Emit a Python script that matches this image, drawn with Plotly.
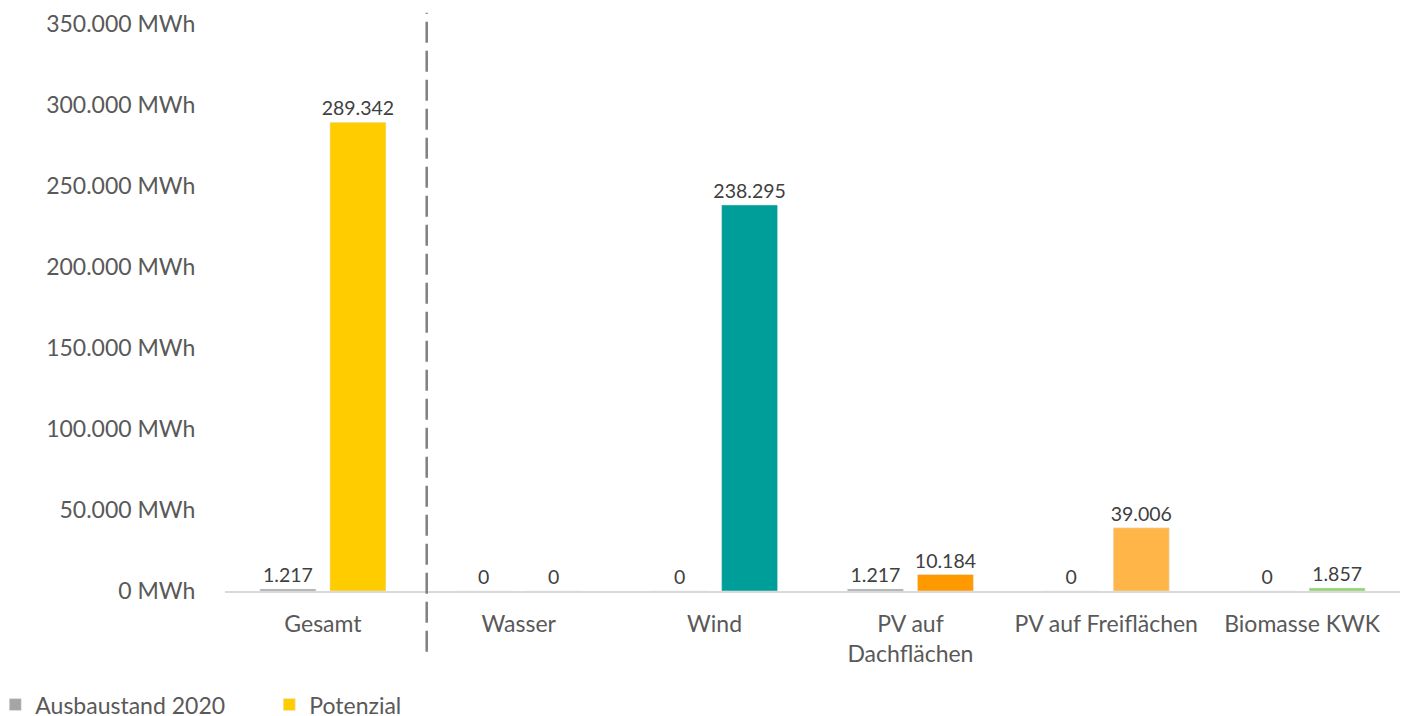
import plotly.graph_objects as go

categories = ["Gesamt", "Wasser", "Wind", "PV auf<br>Dachflächen", "PV auf Freiflächen", "Biomasse KWK"]
ausbau_2020 = [1217, 0, 0, 1217, 0, 0]
potenzial = [289342, 0, 238295, 10184, 39006, 1857]
ausbau_labels = ["1.217", "0", "0", "1.217", "0", "0"]
potenzial_labels = ["289.342", "0", "238.295", "10.184", "39.006", "1.857"]
potenzial_colors = ["#FFCC00", "#FFCC00", "#009E99", "#FF9900", "#FFB547", "#92D36E"]
tick_vals = [0, 50000, 100000, 150000, 200000, 250000, 300000, 350000]
tick_text = ["0 MWh", "50.000 MWh", "100.000 MWh", "150.000 MWh", "200.000 MWh",
             "250.000 MWh", "300.000 MWh", "350.000 MWh"]

FONT = "Lato"
fig = go.Figure()
fig.add_trace(go.Bar(
    x=categories, y=ausbau_2020, name="Ausbaustand 2020",
    marker_color="#A5A5A5", text=ausbau_labels, textposition="outside",
    constraintext="none",
    textfont=dict(size=19.5, color="#404040", family=FONT), cliponaxis=False,
))
fig.add_trace(go.Bar(
    x=categories, y=potenzial, name="Potenzial",
    marker_color=potenzial_colors, text=potenzial_labels, textposition="outside",
    constraintext="none",
    textfont=dict(size=19.5, color="#404040", family=FONT), cliponaxis=False,
))

fig.add_shape(type="line", xref="x", yref="paper", x0=0.53, x1=0.53, y0=-0.107, y1=1.02,
              line=dict(color="#808080", width=2.5, dash="21px,8px"))

fig.update_layout(
    width=1415, height=716,
    margin=dict(l=217, r=23, t=16, b=133, autoexpand=False),
    paper_bgcolor="white", plot_bgcolor="white",
    barmode="group", bargap=0.285, bargroupgap=0.2,
    font=dict(family=FONT, color="#595959", size=23),
    showlegend=True,
    legend=dict(orientation="h", xref="paper", yref="paper",
                x=-0.1955, y=-0.1625, xanchor="left", yanchor="top",
                font=dict(size=23, color="#595959", family=FONT),
                traceorder="normal", itemwidth=30, entrywidth=229),
    xaxis=dict(showline=True, linecolor="#D9D9D9", linewidth=1.5,
               ticks="outside", tickcolor="rgba(0,0,0,0)", ticklen=12,
               tickfont=dict(size=23, color="#595959")),
    yaxis=dict(range=[0, 350000], tickvals=tick_vals, ticktext=tick_text,
               showgrid=False, zeroline=False,
               ticks="outside", tickcolor="rgba(0,0,0,0)", ticklen=24,
               tickfont=dict(size=23, color="#595959")),
)

fig.write_html("out.html")
